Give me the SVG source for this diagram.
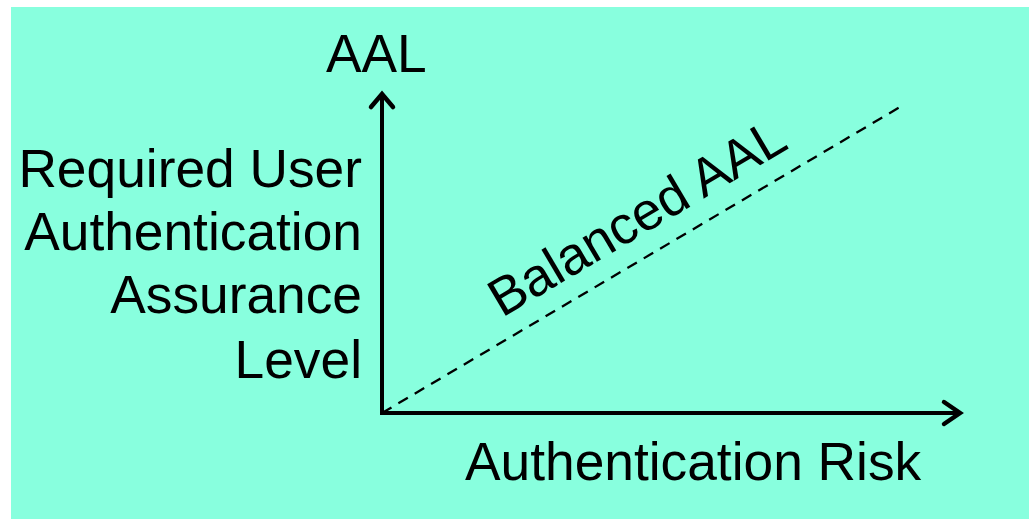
<svg xmlns="http://www.w3.org/2000/svg" width="1029" height="519" viewBox="0 0 1029 519">
  <style>
    .lbl { font-family: "Liberation Sans", Arial, sans-serif; font-size: 53.3px; fill: #000; }
    .axis { stroke: #000; stroke-width: 4; fill: none; }
    .head { stroke: #000; stroke-width: 4.5; fill: none; stroke-linecap: round; stroke-linejoin: miter; }
    .diag { stroke: #000; stroke-width: 2.3; fill: none; stroke-dasharray: 11 8; }
  </style>
  <rect x="11" y="7" width="1018" height="512" fill="#88FFDE"/>

  <g id="connectors">
    <line class="axis" x1="382" y1="415" x2="382" y2="96"/>
    <polyline class="head" points="371,107 382,94 393,107"/>
    <line class="axis" x1="380" y1="413" x2="959" y2="413"/>
    <polyline class="head" points="944,402 960,413 944,424"/>
    <line class="diag" x1="382" y1="413" x2="900" y2="107"/>
  </g>

  <g id="y-axis-title">
    <text class="lbl" x="326" y="72">AAL</text>
  </g>
  <g id="y-axis-label">
    <text class="lbl" text-anchor="end" x="362" y="187">Required User</text>
    <text class="lbl" text-anchor="end" x="362" y="250">Authentication</text>
    <text class="lbl" text-anchor="end" x="362" y="313">Assurance</text>
    <text class="lbl" text-anchor="end" x="362" y="378">Level</text>
  </g>
  <g id="x-axis-label">
    <text class="lbl" x="465" y="480">Authentication Risk</text>
  </g>
  <g id="balanced-line-label">
    <text class="lbl" transform="translate(502,318) rotate(-30.6)">Balanced AAL</text>
  </g>
</svg>
